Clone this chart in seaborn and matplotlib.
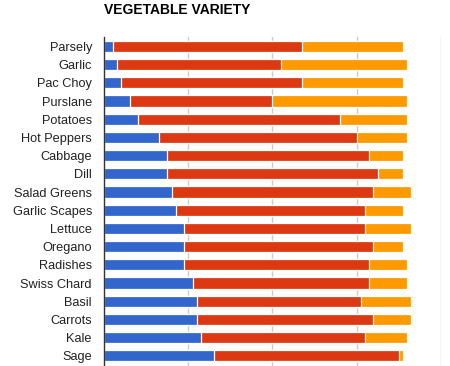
import matplotlib
matplotlib.use("Agg")
import matplotlib.pyplot as plt
import seaborn as sns
import numpy as np
import pandas as pd

vegetables = ["Parsely", "Garlic", "Pac Choy", "Purslane", "Potatoes", "Hot Peppers",
              "Cabbage", "Dill", "Salad Greens", "Garlic Scapes", "Lettuce", "Oregano",
              "Radishes", "Swiss Chard", "Basil", "Carrots", "Kale", "Sage"]
blue_vals = [2, 3, 4, 6, 8, 13, 15, 15, 16, 17, 19, 19, 19, 21, 22, 22, 23, 26]
red_vals = [45, 39, 43, 34, 48, 47, 48, 50, 48, 45, 43, 45, 44, 42, 39, 42, 39, 44]
orange_vals = [24, 30, 24, 32, 16, 12, 8, 6, 9, 9, 11, 7, 9, 9, 12, 9, 10, 1]

colors = ["#3366CC", "#DC3912", "#FF9900"]

df = pd.DataFrame({"veg": vegetables, "blue": blue_vals, "red": red_vals, "orange": orange_vals})
df["c_blue"] = df["blue"]
df["c_red"] = df["blue"] + df["red"]
df["c_orange"] = df["c_red"] + df["orange"]

sns.set_style("white")
plt.rcParams["font.family"] = ["Liberation Sans", "DejaVu Sans"]

fig = plt.figure(figsize=(4.5, 3.66), dpi=100)
ax = fig.add_axes([0.232, 0.0, 0.747, 0.899])

# stack by drawing cumulative totals, largest first
for col, c in zip(["c_orange", "c_red", "c_blue"], colors[::-1]):
    sns.barplot(data=df, x=col, y="veg", color=c, orient="h", width=0.62,
                edgecolor="white", linewidth=0.9, saturation=1, ax=ax, zorder=3)

ax.set_xlim(0, 80)
ax.set_ylim(17.56, -0.52)
ax.set_xticks([20, 40, 60, 80])
ax.xaxis.grid(True, color="#cccccc", linewidth=1)
ax.set_axisbelow(True)
for g in ax.get_xgridlines():
    g.set_zorder(1)
ax.tick_params(axis="x", length=0, labelbottom=False)
ax.tick_params(axis="y", length=0, pad=9, labelsize=9.2, labelcolor="#222222")
ax.set_xlabel("")
ax.set_ylabel("")
for s in ["top", "right", "bottom"]:
    ax.spines[s].set_visible(False)
ax.spines["left"].set_color("#333333")
ax.spines["left"].set_linewidth(1)
ax.spines["left"].set_zorder(5)

fig.text(104 / 450, 1 - 10 / 366, "VEGETABLE VARIETY", fontsize=10, fontweight="bold",
         ha="left", va="center", color="#000000")

fig.savefig("out.png", dpi=100)
